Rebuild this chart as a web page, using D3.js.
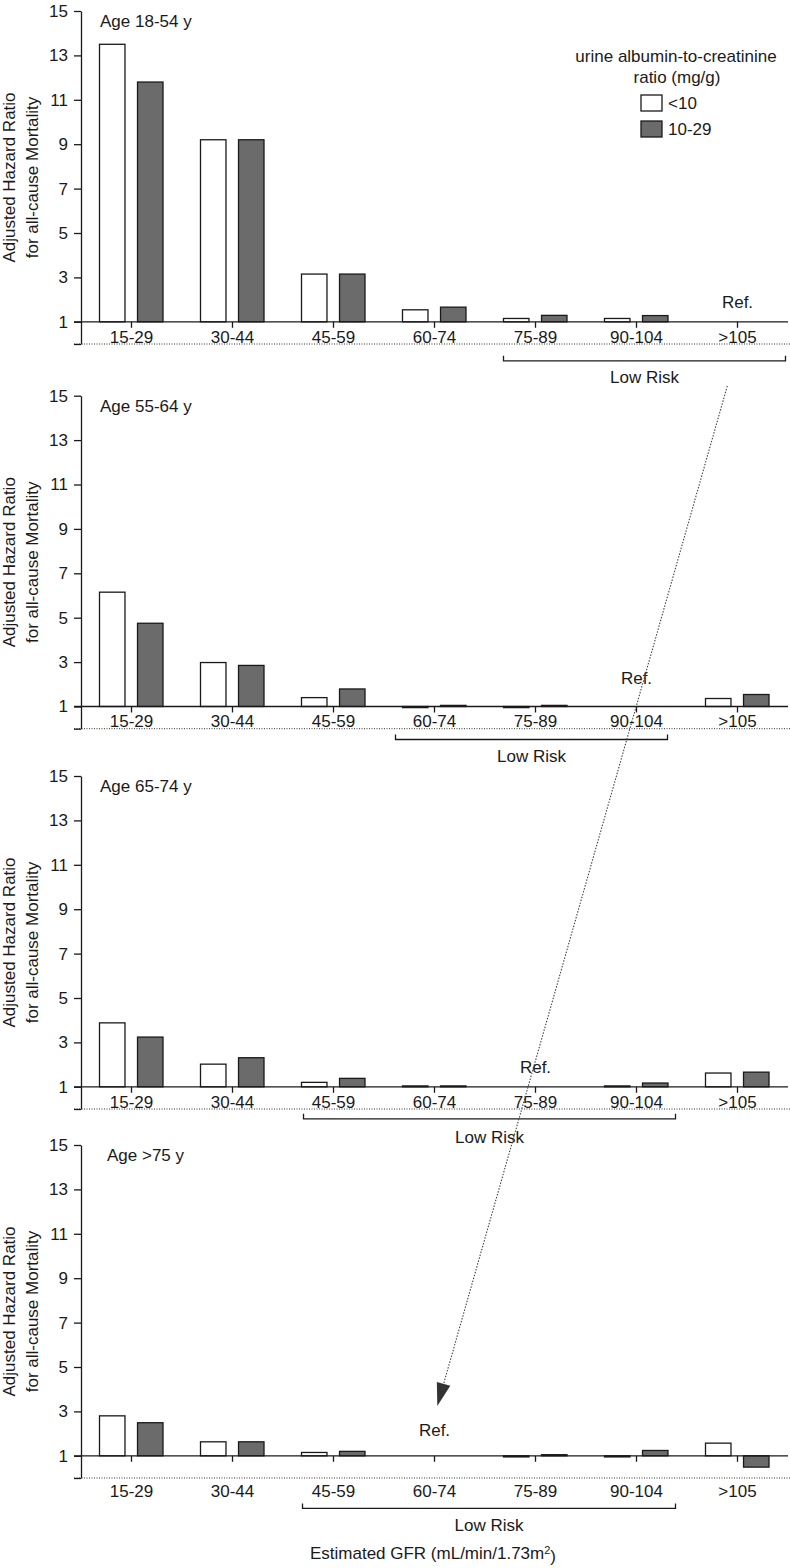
<!DOCTYPE html>
<html>
<head>
<meta charset="utf-8">
<script src="https://cdn.jsdelivr.net/npm/d3@7"></script>
<style>
  body { margin: 0; background: #fff; }
  svg text { font-family: "Liberation Sans", Arial, Helvetica, sans-serif; fill: #1a1a1a; }
</style>
</head>
<body>
<svg id="chart" width="790" height="1568"></svg>
<script>
// ---- data ----
const categories = ['15-29', '30-44', '45-59', '60-74', '75-89', '90-104', '>105'];
const series = ['<10', '10-29'];
const ageGroups = ['Age 18-54 y', 'Age 55-64 y', 'Age 65-74 y', 'Age >75 y'];

// hazard ratios, urine ACR < 10 mg/g (null = reference cell)
const hrLow = [
  [13.5, 9.2, 3.15, 1.54, 1.15, 1.15, null],
  [6.15, 2.98, 1.4, 0.95, 0.95, null, 1.36],
  [3.88, 2.02, 1.2, 1.04, null, 1.04, 1.62],
  [2.8, 1.63, 1.15, null, 0.95, 0.95, 1.57]
];
// hazard ratios, urine ACR 10-29 mg/g
const hrMid = [
  [11.8, 9.2, 3.15, 1.66, 1.29, 1.28, null],
  [4.75, 2.85, 1.79, 1.05, 1.05, null, 1.54],
  [3.24, 2.31, 1.38, 1.04, null, 1.17, 1.66],
  [2.49, 1.63, 1.2, null, 1.05, 1.24, 0.49]
];
const refCategory = ['>105', '90-104', '75-89', '60-74'];
const lowRiskSpan = [['75-89', '>105'], ['60-74', '90-104'], ['45-59', '90-104'], ['45-59', '90-104']];
const yTicks = [1, 3, 5, 7, 9, 11, 13, 15];

// ---- layout ----
const FS = 17;
const axisX = 81;
const panelTop = [11, 395.7, 776, 1145];
const panelH = 333;               // value 15 -> value 0
const tickLabelDy = [15, 15, 15, 35];
const refDy = [20, 28, 20, 26];
const bracket = [                 // offsets from band centres, bracket depth, text depth
  { l: -32, r: 48, dy: 39, ty: 55 },
  { l: -39, r: 31, dy: 33, ty: 50 },
  { l: -30, r: 39, dy: 32, ty: 50 },
  { l: -31, r: 39, dy: 52.6, ty: 69 }
];
const titleX = [100, 100, 100, 107];
const colors = { '<10': '#ffffff', '10-29': '#6b6b6b' };

const svg = d3.select('#chart');

const x = d3.scaleBand().domain(categories).range([axisX, 788]);
const xInner = d3.scaleBand().domain(series).range([-32, 31.5]).paddingInner(0.33);

ageGroups.forEach((age, p) => {
  const top = panelTop[p];
  const y = d3.scaleLinear().domain([0, 15]).range([top + panelH, top]);
  const g = svg.append('g');
  const y1 = y(1);

  // dotted line at value 0
  g.append('line')
    .attr('x1', 74).attr('x2', 790)
    .attr('y1', y(0)).attr('y2', y(0))
    .attr('stroke', '#333').attr('stroke-width', 1)
    .attr('stroke-dasharray', '1,1.5');

  // y axis
  const yAxis = g.append('g')
    .attr('transform', `translate(${axisX},0)`)
    .call(d3.axisLeft(y).tickValues([0, ...yTicks])
      .tickFormat(d => d === 0 ? '' : d)
      .tickSize(7).tickSizeOuter(0).tickPadding(6));
  yAxis.selectAll('path, line').attr('stroke', '#1a1a1a').attr('stroke-width', 1.3);
  yAxis.selectAll('text').style('font-size', FS + 'px').attr('fill', '#1a1a1a');

  // y title
  const yMid = (y(0) + y(15)) / 2;
  const yt = g.append('text')
    .attr('transform', `translate(0,${yMid}) rotate(-90)`)
    .attr('text-anchor', 'middle')
    .style('font-size', FS + 'px');
  yt.append('tspan').attr('x', 0).attr('y', 15).text('Adjusted Hazard Ratio');
  yt.append('tspan').attr('x', 0).attr('y', 38).text('for all-cause Mortality');

  // bars
  const rows = categories.map((c, i) => ({ cat: c, vals: [hrLow[p][i], hrMid[p][i]] }));
  const cells = rows.flatMap(r => r.vals.map((v, k) => ({ cat: r.cat, s: series[k], v })))
    .filter(d => d.v !== null);
  g.selectAll('rect.bar').data(cells).enter().append('rect')
    .attr('class', 'bar')
    .attr('x', d => x(d.cat) + x.bandwidth() / 2 + xInner(d.s))
    .attr('width', xInner.bandwidth())
    .attr('y', d => Math.min(y(d.v), y1))
    .attr('height', d => Math.max(Math.abs(y(d.v) - y1), 0.8))
    .attr('fill', d => colors[d.s])
    .attr('stroke', '#1a1a1a').attr('stroke-width', 1.3);

  // baseline at HR = 1 with category ticks
  g.append('line')
    .attr('x1', 74).attr('x2', 788).attr('y1', y1).attr('y2', y1)
    .attr('stroke', '#1a1a1a').attr('stroke-width', 1.3);
  const xAxis = g.append('g')
    .attr('transform', `translate(0,${y1})`)
    .call(d3.axisBottom(x).tickSize(6).tickSizeOuter(0));
  xAxis.select('.domain').remove();
  xAxis.selectAll('line').attr('stroke', '#1a1a1a').attr('stroke-width', 1.3);
  xAxis.selectAll('text')
    .attr('y', tickLabelDy[p]).attr('dy', '0.35em')
    .style('font-size', FS + 'px').attr('fill', '#1a1a1a');

  // Ref. label
  g.append('text')
    .attr('x', x(refCategory[p]) + x.bandwidth() / 2)
    .attr('y', y1 - refDy[p]).attr('dy', '0.35em')
    .attr('text-anchor', 'middle')
    .style('font-size', FS + 'px').text('Ref.');

  // Low Risk bracket
  const b = bracket[p];
  const bx1 = x(lowRiskSpan[p][0]) + x.bandwidth() / 2 + b.l;
  const bx2 = x(lowRiskSpan[p][1]) + x.bandwidth() / 2 + b.r;
  const by = y1 + b.dy;
  g.append('path')
    .attr('d', `M${bx1},${by - 5}V${by}H${bx2}V${by - 5}`)
    .attr('fill', 'none').attr('stroke', '#1a1a1a').attr('stroke-width', 1.3);
  g.append('text')
    .attr('x', (bx1 + bx2) / 2).attr('y', y1 + b.ty).attr('dy', '0.35em')
    .attr('text-anchor', 'middle')
    .style('font-size', FS + 'px').text('Low Risk');

  // panel title
  g.append('text')
    .attr('x', titleX[p]).attr('y', top + 10).attr('dy', '0.35em')
    .style('font-size', FS + 'px').text(age);
});

// legend (top panel)
const leg = svg.append('g');
leg.append('text').attr('x', 676).attr('y', 56).attr('dy', '0.35em')
  .attr('text-anchor', 'middle').style('font-size', FS + 'px')
  .text('urine albumin-to-creatinine');
leg.append('text').attr('x', 677).attr('y', 77).attr('dy', '0.35em')
  .attr('text-anchor', 'middle').style('font-size', FS + 'px')
  .text('ratio (mg/g)');
series.forEach((s, i) => {
  leg.append('rect')
    .attr('x', 641).attr('y', 95 + i * 26)
    .attr('width', 21).attr('height', 16)
    .attr('fill', colors[s]).attr('stroke', '#1a1a1a').attr('stroke-width', 1.3);
  leg.append('text')
    .attr('x', 668).attr('y', 103 + i * 26).attr('dy', '0.35em')
    .style('font-size', FS + 'px').text(s);
});

// dotted arrow running across the panels to the bottom Ref.
const a0 = [727.3, 386], a1 = [437.3, 1406];
const ang = Math.atan2(a1[1] - a0[1], a1[0] - a0[0]);
const headLen = 23, headHalf = 7;
const base = [a1[0] - headLen * Math.cos(ang), a1[1] - headLen * Math.sin(ang)];
svg.append('line')
  .attr('x1', a0[0]).attr('y1', a0[1]).attr('x2', base[0]).attr('y2', base[1])
  .attr('stroke', '#444').attr('stroke-width', 1.1).attr('stroke-dasharray', '1.5,1.5');
const nx = -Math.sin(ang), ny = Math.cos(ang);
svg.append('path')
  .attr('d', `M${a1[0]},${a1[1]}L${base[0] + nx * headHalf},${base[1] + ny * headHalf}L${base[0] - nx * headHalf},${base[1] - ny * headHalf}Z`)
  .attr('fill', '#333');

// x axis title
const xt = svg.append('text')
  .attr('x', 433).attr('y', 1553).attr('dy', '0.35em')
  .attr('text-anchor', 'middle').style('font-size', FS + 'px');
xt.append('tspan').text('Estimated GFR (mL/min/1.73m');
xt.append('tspan').attr('dy', '-0.45em').style('font-size', '11px').text('2');
xt.append('tspan').attr('dy', '0.45em').text(')');
</script>
</body>
</html>
